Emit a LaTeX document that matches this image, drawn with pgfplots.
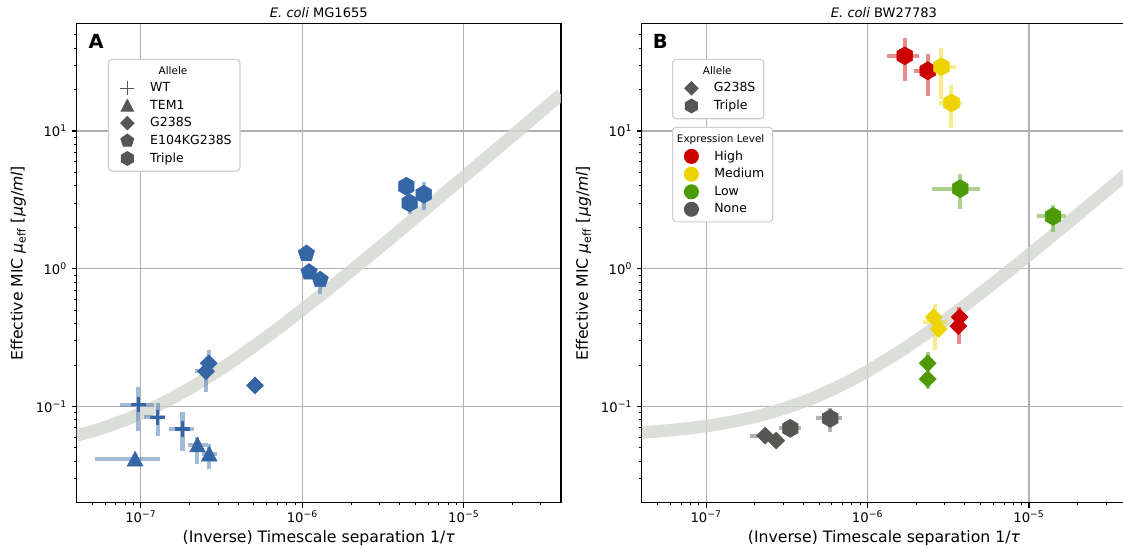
\documentclass[border=0pt]{standalone}
\usepackage{fontspec}
\setmainfont{DejaVu Sans}
\usepackage{pgfplots}
\pgfplotsset{compat=1.18}

\definecolor{tblue}{HTML}{3465A4}
\definecolor{tred}{HTML}{CC0000}
\definecolor{tyellow}{HTML}{EDD400}
\definecolor{tgreen}{HTML}{4E9A06}
\definecolor{tgray}{HTML}{555753}
\definecolor{tband}{HTML}{D3D7CF}

\newcommand{\lgt}[1]{\hspace*{10.5pt}#1}
\newcommand{\lgtitle}[2]{\fontsize{7.5}{8}\selectfont\hspace*{#1}#2}

\pgfdeclareplotmark{hex}{%
  \pgfpathmoveto{\pgfqpointpolar{90}{\pgfplotmarksize}}%
  \pgfpathlineto{\pgfqpointpolar{150}{\pgfplotmarksize}}%
  \pgfpathlineto{\pgfqpointpolar{210}{\pgfplotmarksize}}%
  \pgfpathlineto{\pgfqpointpolar{270}{\pgfplotmarksize}}%
  \pgfpathlineto{\pgfqpointpolar{330}{\pgfplotmarksize}}%
  \pgfpathlineto{\pgfqpointpolar{30}{\pgfplotmarksize}}%
  \pgfpathclose\pgfusepathqfillstroke}
\pgfdeclareplotmark{pent}{%
  \pgfpathmoveto{\pgfqpointpolar{90}{\pgfplotmarksize}}%
  \pgfpathlineto{\pgfqpointpolar{162}{\pgfplotmarksize}}%
  \pgfpathlineto{\pgfqpointpolar{234}{\pgfplotmarksize}}%
  \pgfpathlineto{\pgfqpointpolar{306}{\pgfplotmarksize}}%
  \pgfpathlineto{\pgfqpointpolar{18}{\pgfplotmarksize}}%
  \pgfpathclose\pgfusepathqfillstroke}
\pgfdeclareplotmark{dia}{%
  \pgfpathmoveto{\pgfqpoint{0pt}{\pgfplotmarksize}}%
  \pgfpathlineto{\pgfqpoint{\pgfplotmarksize}{0pt}}%
  \pgfpathlineto{\pgfqpoint{0pt}{-\pgfplotmarksize}}%
  \pgfpathlineto{\pgfqpoint{-\pgfplotmarksize}{0pt}}%
  \pgfpathclose\pgfusepathqfillstroke}
\pgfdeclareplotmark{tri}{%
  \pgfpathmoveto{\pgfqpoint{0pt}{\pgfplotmarksize}}%
  \pgfpathlineto{\pgfqpoint{-\pgfplotmarksize}{-0.9\pgfplotmarksize}}%
  \pgfpathlineto{\pgfqpoint{\pgfplotmarksize}{-0.9\pgfplotmarksize}}%
  \pgfpathclose\pgfusepathqfillstroke}

\pgfplotsset{
  every axis/.append style={
    xmode=log, ymode=log, scale only axis, width=348.7pt, height=344.7pt,
    xmin=4e-8, xmax=4e-5, ymin=0.02, ymax=60,
    xtick={1e-7,1e-6,1e-5},
    xticklabels={10\textsuperscript{−7},10\textsuperscript{−6},10\textsuperscript{−5}},
    ytick={0.1,1,10},
    yticklabels={10\textsuperscript{−1},10\textsuperscript{0},10\textsuperscript{1}},
    minor xtick={5e-8,6e-8,7e-8,8e-8,9e-8,2e-7,3e-7,4e-7,5e-7,6e-7,7e-7,8e-7,9e-7,2e-6,3e-6,4e-6,5e-6,6e-6,7e-6,8e-6,9e-6,2e-5,3e-5},
    minor ytick={0.03,0.04,0.05,0.06,0.07,0.08,0.09,0.2,0.3,0.4,0.5,0.6,0.7,0.8,0.9,2,3,4,5,6,7,8,9,20,30,40,50},
    xtick pos=left, ytick pos=left, tick align=outside,
    major tick length=3.5pt, minor tick length=2pt,
    major tick style={black, line width=0.8pt},
    minor tick style={black, line width=0.6pt},
    axis line style={line width=0.8pt},
    grid=major, major grid style={color=black!31, line width=0.8pt},
    tick label style={font=\fontsize{9.5}{10}\selectfont},
    xticklabel style={yshift=1.2pt},
    title style={font=\fontsize{9.4}{10}\selectfont, anchor=base, yshift=-1.7pt},
    xlabel style={font=\fontsize{11.3}{12}\selectfont, at={(axis description cs:0.5,0)}, anchor=base, yshift=-28.5pt},
    ylabel style={font=\fontsize{11.3}{12}\selectfont, at={(axis description cs:-0.1206,0.5)}, anchor=center},
    xlabel={(Inverse) Timescale separation 1/\textit{τ}},
    ylabel={Effective MIC \textit{μ}\textsubscript{eff} [\textit{μg}/\textit{ml}]},
    legend cell align=left,
    legend style={draw=black!20, line width=0.8pt, rounded corners=2.5pt, fill=white,
      font=\fontsize{9}{10}\selectfont, anchor=north west,
      inner xsep=5pt, inner ysep=3pt, row sep=0.5pt, nodes={inner xsep=1pt}},
  },
  band/.style={forget plot, no markers, color=tband, opacity=0.8, line width=9pt},
  ebar/.style={forget plot, no markers, line width=2.9pt, opacity=0.45, unbounded coords=jump, line cap=butt},
  mk/.style={forget plot, only marks, mark options={line width=0.4pt}},
}

\begin{document}
\begin{tikzpicture}
\path[use as bounding box] (-55.2pt,-32.6pt) rectangle (753.3pt,361.9pt);

% ---------------- Panel A ----------------
\begin{axis}[at={(0pt,0pt)}, anchor=south west,
  title={\textit{E. coli} MG1655},
  legend style={at={(axis description cs:0.0646,0.927)}}]
\addplot[band] coordinates {
 (4e-8,0.0614) (5e-8,0.066) (6e-8,0.0706) (8e-8,0.0798) (1e-7,0.089) (1.25e-7,0.1005)
 (1.6e-7,0.1166) (2e-7,0.135) (2.5e-7,0.158) (3.2e-7,0.1902) (4e-7,0.227) (5e-7,0.273)
 (6.3e-7,0.3328) (8e-7,0.411) (1e-6,0.503) (1.6e-6,0.779) (2.5e-6,1.193) (4e-6,1.883)
 (6.3e-6,2.941) (1e-5,4.643) (1.6e-5,7.403) (2.5e-5,11.54) (4e-5,18.44)};
\addplot[ebar, tblue] coordinates {
 (7.4e-8,0.103) (1.21e-7,0.103) (nan,nan)
 (9.66e-8,0.0667) (9.66e-8,0.138) (nan,nan)
 (1.05e-7,0.0833) (1.41e-7,0.0833) (nan,nan)
 (1.27e-7,0.0606) (1.27e-7,0.106) (nan,nan)
 (1.50e-7,0.0686) (2.14e-7,0.0686) (nan,nan)
 (1.81e-7,0.0471) (1.81e-7,0.0906) (nan,nan)
 (5.2e-8,0.0415) (1.31e-7,0.0415) (nan,nan)
 (1.95e-7,0.0525) (2.59e-7,0.0525) (nan,nan)
 (2.24e-7,0.0382) (2.24e-7,0.0596) (nan,nan)
 (2.39e-7,0.0451) (2.96e-7,0.0451) (nan,nan)
 (2.65e-7,0.0351) (2.65e-7,0.0534) (nan,nan)
 (2.63e-7,0.17) (2.63e-7,0.255) (nan,nan)
 (2.17e-7,0.18) (2.85e-7,0.18) (nan,nan)
 (2.53e-7,0.127) (2.53e-7,0.22) (nan,nan)
 (1.29e-6,0.66) (1.29e-6,0.95) (nan,nan)
 (1.10e-6,0.85) (1.10e-6,1.05) (nan,nan)
 (4.62e-6,2.51) (4.62e-6,3.4) (nan,nan)
 (5.65e-6,2.66) (5.65e-6,4.27)};
\addplot[mk, tblue, mark=+, mark size=5.6pt, mark options={line width=2.5pt}] coordinates {
 (9.66e-8,0.103) (1.27e-7,0.0833) (1.81e-7,0.0686)};
\addplot[mk, tblue, mark=tri, mark size=5.6pt] coordinates {
 (9.2e-8,0.0415) (2.24e-7,0.0525) (2.65e-7,0.0451)};
\addplot[mk, tblue, mark=dia, mark size=6.1pt] coordinates {
 (2.53e-7,0.18) (2.63e-7,0.206) (5.09e-7,0.142)};
\addplot[mk, tblue, mark=pent, mark size=6.2pt] coordinates {
 (1.06e-6,1.29) (1.10e-6,0.945) (1.29e-6,0.832)};
\addplot[mk, tblue, mark=hex, mark size=6.5pt] coordinates {
 (4.41e-6,3.97) (4.62e-6,3.0) (5.65e-6,3.47)};

\addlegendimage{empty legend}\addlegendentry{\lgtitle{16.6pt}{Allele}}
\addlegendimage{only marks, tgray, mark=+, mark size=5pt, mark options={line width=0.7pt}}\addlegendentry{\lgt{WT}}
\addlegendimage{only marks, tgray, mark=tri, mark size=4.3pt}\addlegendentry{\lgt{TEM1}}
\addlegendimage{only marks, tgray, mark=dia, mark size=4.7pt}\addlegendentry{\lgt{G238S}}
\addlegendimage{only marks, tgray, mark=pent, mark size=4.8pt}\addlegendentry{\lgt{E104KG238S}}
\addlegendimage{only marks, tgray, mark=hex, mark size=4.9pt}\addlegendentry{\lgt{Triple}}

\node[anchor=base west, inner sep=0pt, font=\fontsize{14}{15}\selectfont\bfseries] at (axis description cs:0.024,0.949) {A};
\end{axis}

% ---------------- Panel B ----------------
\begin{axis}[at={(406.9pt,0pt)}, anchor=south west,
  title={\textit{E. coli} BW27783},
  legend style={at={(axis description cs:0.0624,0.927)}}]
\addplot[band] coordinates {
 (4e-8,0.0648) (5e-8,0.066) (6e-8,0.0672) (8e-8,0.0696) (1e-7,0.072) (1.25e-7,0.075)
 (1.6e-7,0.0792) (2e-7,0.084) (2.5e-7,0.09) (3.2e-7,0.0984) (4e-7,0.108) (5e-7,0.12)
 (6.3e-7,0.1356) (8e-7,0.156) (1e-6,0.18) (1.6e-6,0.252) (2.5e-6,0.36) (4e-6,0.54)
 (6.3e-6,0.816) (1e-5,1.26) (1.6e-5,1.98) (2.5e-5,3.06) (4e-5,4.86)};
\addplot[ebar, tred] coordinates {
 (1.32e-6,35.2) (2.07e-6,35.2) (nan,nan)
 (1.70e-6,23.1) (1.70e-6,47.1) (nan,nan)
 (1.93e-6,27.4) (2.76e-6,27.4) (nan,nan)
 (2.36e-6,18.0) (2.36e-6,36.2) (nan,nan)
 (3.68e-6,0.285) (3.68e-6,0.526)};
\addplot[ebar, tyellow] coordinates {
 (2.28e-6,29.3) (3.51e-6,29.3) (nan,nan)
 (2.87e-6,17.2) (2.87e-6,39.8) (nan,nan)
 (2.76e-6,16.0) (3.86e-6,16.0) (nan,nan)
 (3.31e-6,10.6) (3.31e-6,21.5) (nan,nan)
 (2.21e-6,0.41) (3.11e-6,0.41) (nan,nan)
 (2.62e-6,0.255) (2.62e-6,0.557)};
\addplot[ebar, tgreen] coordinates {
 (2.51e-6,3.82) (4.96e-6,3.82) (nan,nan)
 (3.75e-6,2.73) (3.75e-6,4.85) (nan,nan)
 (1.125e-5,2.40) (1.69e-5,2.40) (nan,nan)
 (1.41e-5,1.85) (1.41e-5,2.92) (nan,nan)
 (2.36e-6,0.134) (2.36e-6,0.247)};
\addplot[ebar, tgray] coordinates {
 (1.86e-7,0.0613) (2.6e-7,0.0613) (nan,nan)
 (2.81e-7,0.0693) (3.87e-7,0.0693) (nan,nan)
 (3.32e-7,0.063) (3.32e-7,0.076) (nan,nan)
 (4.81e-7,0.0819) (6.95e-7,0.0819) (nan,nan)
 (5.88e-7,0.0648) (5.88e-7,0.0975)};
\addplot[mk, tgray, mark=dia, mark size=6.1pt] coordinates {(2.32e-7,0.0613) (2.72e-7,0.0565)};
\addplot[mk, tgreen, mark=dia, mark size=6.1pt] coordinates {(2.36e-6,0.206) (2.36e-6,0.158)};
\addplot[mk, tyellow, mark=dia, mark size=6.1pt] coordinates {(2.57e-6,0.445) (2.76e-6,0.366)};
\addplot[mk, tred, mark=dia, mark size=6.1pt] coordinates {(3.72e-6,0.445) (3.65e-6,0.383)};
\addplot[mk, tgray, mark=hex, mark size=6.5pt] coordinates {(3.32e-7,0.0693) (5.88e-7,0.0819)};
\addplot[mk, tgreen, mark=hex, mark size=6.5pt] coordinates {(3.75e-6,3.82) (1.41e-5,2.40)};
\addplot[mk, tred, mark=hex, mark size=6.5pt] coordinates {(1.70e-6,35.2) (2.36e-6,27.4)};
\addplot[mk, tyellow, mark=hex, mark size=6.5pt] coordinates {(2.87e-6,29.3) (3.31e-6,16.0)};

\addlegendimage{empty legend}\addlegendentry{\lgtitle{2.6pt}{Allele}}
\addlegendimage{only marks, tgray, mark=dia, mark size=4.7pt}\addlegendentry{\lgt{G238S}}
\addlegendimage{only marks, tgray, mark=hex, mark size=4.9pt}\addlegendentry{\lgt{Triple}}

\node[anchor=base west, inner sep=0pt, font=\fontsize{14}{15}\selectfont\bfseries] at (axis description cs:0.022,0.949) {B};
\end{axis}

\begin{axis}[at={(406.9pt,0pt)}, anchor=south west, hide axis,
  legend style={at={(axis description cs:0.0624,0.785)}}]
\addlegendimage{empty legend}\addlegendentry{\lgtitle{-16.4pt}{Expression Level}}
\addlegendimage{only marks, tred, mark=*, mark size=5pt}\addlegendentry{\lgt{High}}
\addlegendimage{only marks, tyellow, mark=*, mark size=5pt}\addlegendentry{\lgt{Medium}}
\addlegendimage{only marks, tgreen, mark=*, mark size=5pt}\addlegendentry{\lgt{Low}}
\addlegendimage{only marks, tgray, mark=*, mark size=5pt}\addlegendentry{\lgt{None}}
\end{axis}
\end{tikzpicture}
\end{document}
